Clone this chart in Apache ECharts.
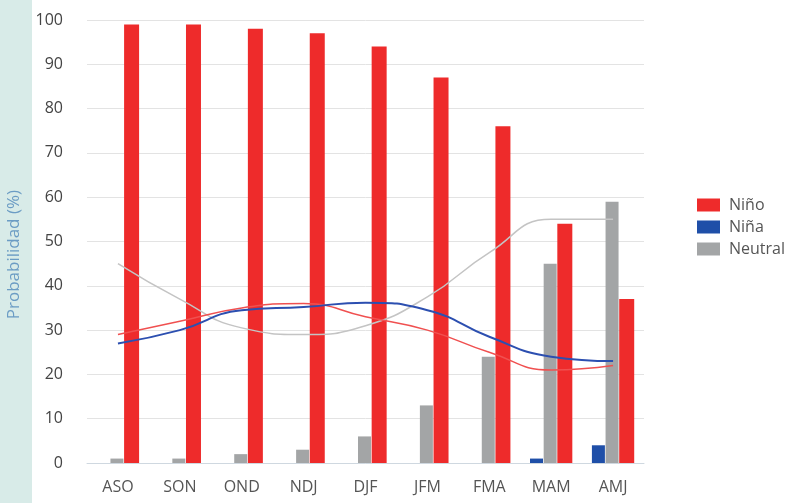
<!DOCTYPE html>
<html>
<head>
<meta charset="utf-8">
<script src="https://cdn.jsdelivr.net/npm/echarts@6/dist/echarts.min.js"></script>
<style>
  html, body { margin: 0; padding: 0; background: #fff; }
  #chart { width: 800px; height: 503px; }
</style>
</head>
<body>
<div id="chart"></div>
<script>
  // estaciones
  var seasons = ['ASO', 'SON', 'OND', 'NDJ', 'DJF', 'JFM', 'FMA', 'MAM', 'AMJ'];
  // probabilidades pronosticadas (%)
  var ninoProb = [99, 99, 98, 97, 94, 87, 76, 54, 37];
  var ninaProb = [0, 0, 0, 0, 0, 0, 0, 1, 4];
  var neutralProb = [1, 1, 2, 3, 6, 13, 24, 45, 59];
  // climatologia (lineas)
  var ninoClim = [29, 32, 35, 36, 33, 30, 25, 21, 22];
  var ninaClim = [27, 30, 34.5, 35.2, 36.2, 34.5, 28.5, 24, 23];
  var neutralClim = [45, 37, 30.5, 29, 31, 37.5, 47.5, 55, 55];

  var colNino = '#ee2b2b', colNina = '#1f4fa8', colNeutral = '#a3a5a6';

  var chart = echarts.init(document.getElementById('chart'));

  function climLine(name, data, color, width) {
    return {
      name: name,
      type: 'line',
      data: data,
      smooth: true,
      symbol: 'none',
      silent: true,
      z: 5,
      lineStyle: { color: color, width: width }
    };
  }

  var option = {
    backgroundColor: '#fff',
    animation: false,
    graphic: [{
      type: 'rect',
      left: 0, top: 0, z: -1,
      shape: { width: 32, height: 503 },
      style: { fill: '#d8ebe8' }
    }, {
      type: 'text',
      left: 6, top: 190,
      rotation: Math.PI / 2,
      style: {
        text: 'Probabilidad (%)',
        fill: '#6b9cc4',
        font: '17px "Open Sans", sans-serif'
      }
    }],
    legend: {
      data: ['Niño', 'Niña', 'Neutral'],
      orient: 'vertical',
      left: 692,
      top: 192,
      itemWidth: 23,
      itemHeight: 13,
      itemGap: 6,
      icon: 'rect',
      textStyle: { color: '#555', fontSize: 16, fontFamily: 'Open Sans', padding: [0, 0, 0, 4] }
    },
    grid: { left: 87, right: 156, top: 20, bottom: 40 },
    xAxis: {
      type: 'category',
      data: seasons,
      axisLine: { lineStyle: { color: '#cfd8e0' } },
      axisTick: { show: false },
      axisLabel: { color: '#555', fontSize: 16, margin: 16, fontFamily: 'Open Sans' }
    },
    yAxis: {
      type: 'value',
      min: 0, max: 100, interval: 10,
      axisLine: { show: false },
      axisTick: { show: false },
      splitLine: { lineStyle: { color: '#e3e3e3' } },
      axisLabel: { color: '#444', fontSize: 16, margin: 24, fontFamily: 'Open Sans' }
    },
    series: [
      { name: 'Niña', type: 'bar', data: ninaProb, barWidth: 13, barGap: '5%', itemStyle: { color: colNina } },
      { name: 'Neutral', type: 'bar', data: neutralProb, barWidth: 13, barGap: '5%', itemStyle: { color: colNeutral } },
      { name: 'Niño', type: 'bar', data: ninoProb, barWidth: 15, barGap: '5%', itemStyle: { color: colNino } },
      climLine('Neutral clim', neutralClim, '#c4c4c4', 1.5),
      climLine('Niño clim', ninoClim, '#f05050', 1.5),
      climLine('Niña clim', ninaClim, '#2c4fb0', 2)
    ]
  };

  chart.setOption(option);
</script>
</body>
</html>
